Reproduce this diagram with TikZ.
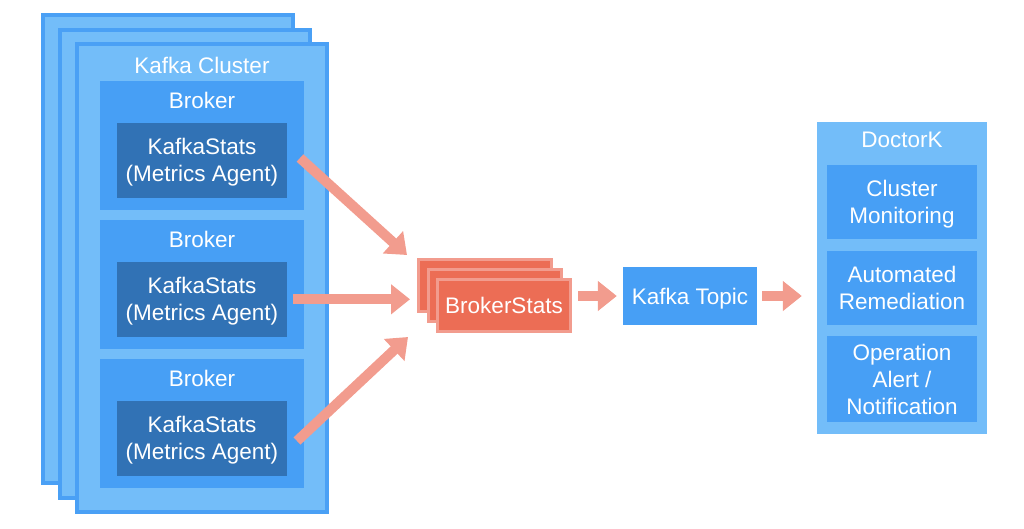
\documentclass[tikz,border=0pt]{standalone}
\usepackage{fontspec}
\setmainfont{Liberation Sans}
\usetikzlibrary{shapes,arrows.meta,calc}
\definecolor{lightblue}{HTML}{73BDF9}
\definecolor{edgeblue}{HTML}{4AA0F5}
\definecolor{midblue}{HTML}{479FF5}
\definecolor{darkblue}{HTML}{3172B5}
\definecolor{salmon}{HTML}{F29C8E}
\definecolor{redstat}{HTML}{EC6D55}
\tikzstyle{cluster} = [draw=edgeblue, line width=4pt, fill=lightblue, rectangle,
    inner sep=0pt, minimum width=250pt, minimum height=468pt]
\tikzstyle{block} = [fill=midblue, rectangle, inner sep=0pt, text=white,
    text depth=0pt]
\tikzstyle{agent} = [fill=darkblue, rectangle, inner sep=0pt, text=white,
    minimum width=170pt, minimum height=75pt, align=center, text depth=0pt]
\tikzstyle{stat} = [draw=salmon, line width=3pt, fill=redstat, rectangle,
    inner sep=0pt, minimum width=133pt, minimum height=52pt, text=white]
\tikzstyle{label} = [text=white, inner sep=0pt, align=center]
\tikzstyle{flow} = [draw=salmon, line width=10pt,
    -{Triangle[length=19pt,width=29pt]}]

\begin{document}
\begin{tikzpicture}[x=1pt, y=-1pt, font=\fontsize{22.5}{27}\selectfont]
\useasboundingbox (0,0) rectangle (1024,528);
\coordinate (T1) at (300,158);
\coordinate (H1) at (407,255);
\coordinate (T3) at (297,441);
\coordinate (H3) at (408,337);

\node[cluster] (back) at (168,249) {};
\node[cluster] (middle) at (185,264) {};
\node[cluster] (front) at (202,278) {};
\node[label] (clustername) at (202,65) {Kafka Cluster};

\foreach \i/\y in {1/145.5, 2/284.5, 3/423.5} {
  \node[block, minimum width=204pt, minimum height=129pt] (broker\i) at (202,\y) {};
  \node[label, anchor=north] (brokername\i) at ($(broker\i.north)+(0,11)$) {\vphantom{Bg}Broker};
  \node[agent] (ks\i) at ($(broker\i.north)+(0,79.5)$) {KafkaStats\\(Metrics Agent)};
}

\node[stat] (bsback) at (485,285.5) {};
\node[stat] (bsmid) at (495,295.5) {};
\node[stat] (bs) at (504,305.5) {BrokerStats};

\node[block, minimum width=134pt, minimum height=58pt] (topic) at (690,296) {Kafka Topic};

\node[fill=lightblue, rectangle, inner sep=0pt, minimum width=170pt,
    minimum height=312pt] (doctork) at (902,278) {};
\node[label] (doctorname) at (902,140) {DoctorK};
\node[block, minimum width=150pt, minimum height=74pt, align=center] (monitor) at (902,202) {Cluster\\Monitoring};
\node[block, minimum width=150pt, minimum height=74pt, align=center] (remedy) at (902,288) {Automated\\Remediation};
\node[block, minimum width=150pt, minimum height=86pt, align=center] (alert) at (902,379) {Operation\\Alert /\\Notification};

\draw[flow] (T1) -- (H1);
\draw[flow, shorten <=6pt, shorten >=7pt] (ks2.east) -- (ks2.east -| bsback.west);
\draw[flow] (T3) -- (H3);
\draw[flow, shorten <=6pt, shorten >=6pt] (bs.east |- topic.west) -- (topic.west);
\draw[flow, shorten <=5pt, shorten >=15pt] (topic.east) -- (topic.east -| doctork.west);
\end{tikzpicture}
\end{document}
